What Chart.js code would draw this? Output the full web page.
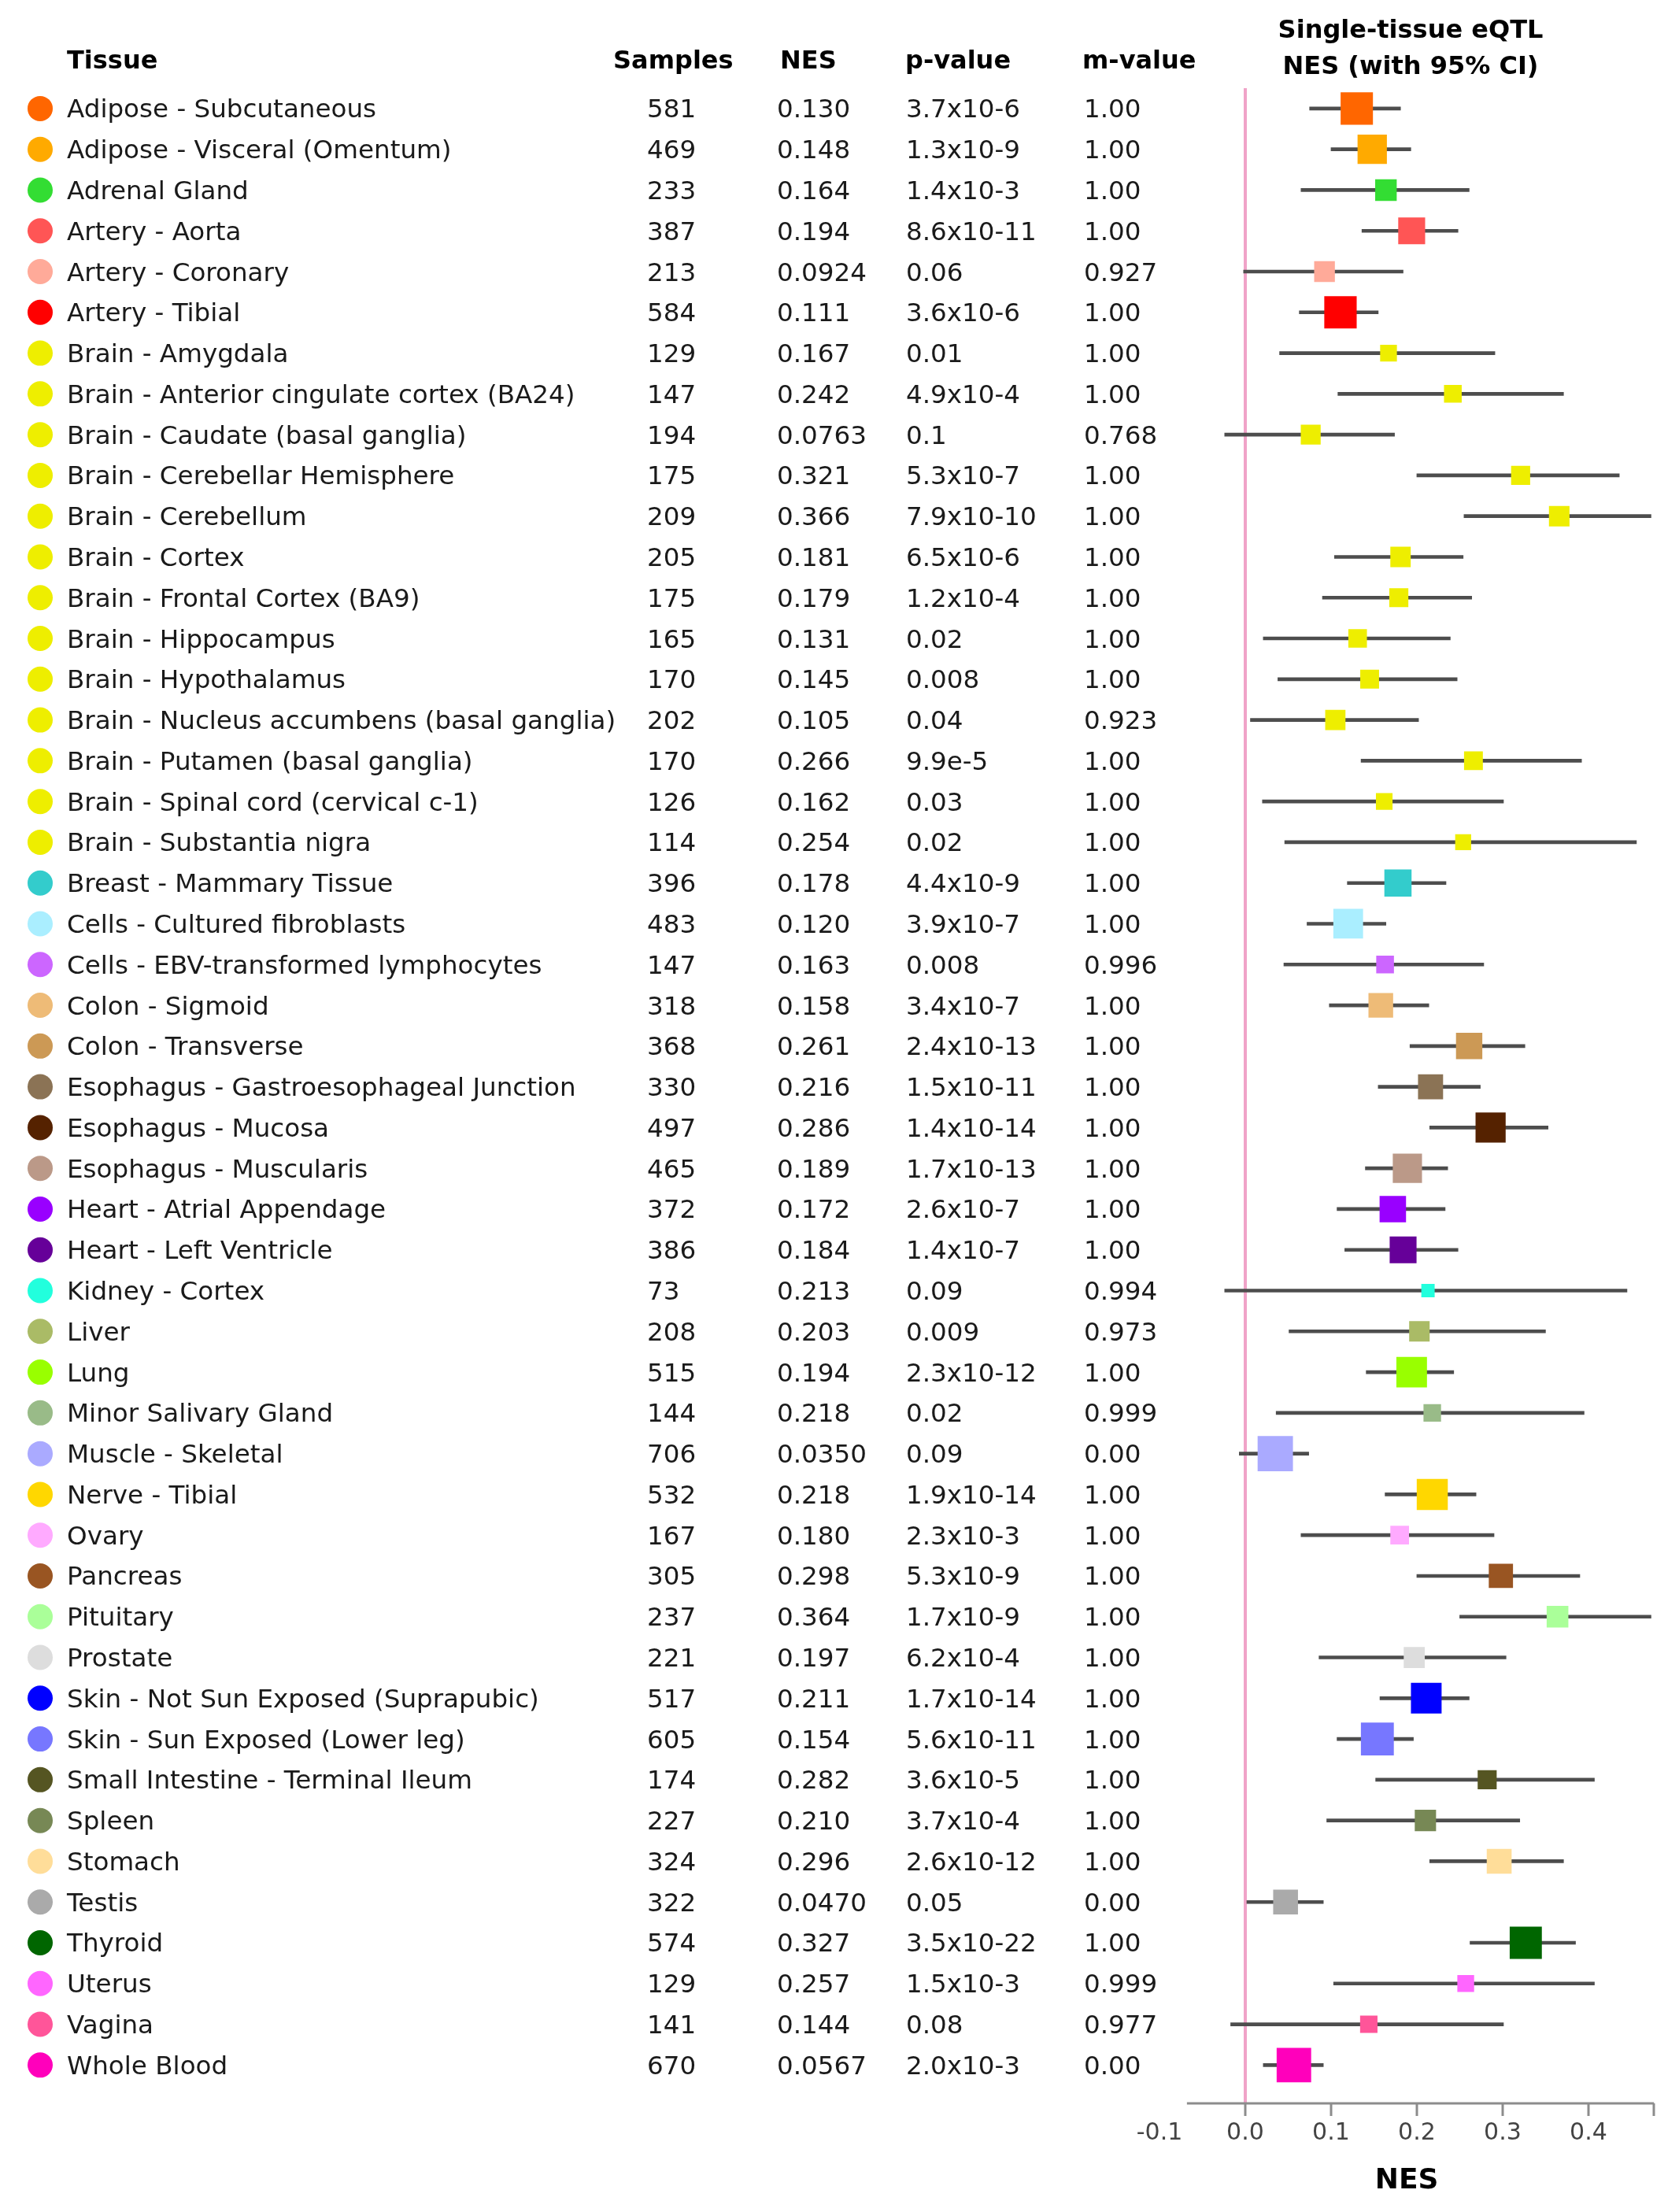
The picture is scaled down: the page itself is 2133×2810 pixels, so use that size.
<!DOCTYPE html>
<html>
<head>
<meta charset="utf-8">
<script src="https://cdn.jsdelivr.net/npm/chart.js@4.4.1/dist/chart.umd.min.js"></script>
<style>
  body { margin: 0; background: #ffffff; }
  #wrap { width: 2133px; height: 2810px; }
</style>
</head>
<body>
<div id="wrap"><canvas id="eqtlChart" width="2133" height="2810"></canvas></div>
<script>
const tissues = [
  'Adipose - Subcutaneous', 'Adipose - Visceral (Omentum)', 'Adrenal Gland', 'Artery - Aorta',
  'Artery - Coronary', 'Artery - Tibial', 'Brain - Amygdala', 'Brain - Anterior cingulate cortex (BA24)',
  'Brain - Caudate (basal ganglia)', 'Brain - Cerebellar Hemisphere', 'Brain - Cerebellum', 'Brain - Cortex',
  'Brain - Frontal Cortex (BA9)', 'Brain - Hippocampus', 'Brain - Hypothalamus',
  'Brain - Nucleus accumbens (basal ganglia)', 'Brain - Putamen (basal ganglia)',
  'Brain - Spinal cord (cervical c-1)', 'Brain - Substantia nigra', 'Breast - Mammary Tissue',
  'Cells - Cultured fibroblasts', 'Cells - EBV-transformed lymphocytes', 'Colon - Sigmoid',
  'Colon - Transverse', 'Esophagus - Gastroesophageal Junction', 'Esophagus - Mucosa',
  'Esophagus - Muscularis', 'Heart - Atrial Appendage', 'Heart - Left Ventricle', 'Kidney - Cortex',
  'Liver', 'Lung', 'Minor Salivary Gland', 'Muscle - Skeletal', 'Nerve - Tibial', 'Ovary', 'Pancreas',
  'Pituitary', 'Prostate', 'Skin - Not Sun Exposed (Suprapubic)', 'Skin - Sun Exposed (Lower leg)',
  'Small Intestine - Terminal Ileum', 'Spleen', 'Stomach', 'Testis', 'Thyroid', 'Uterus', 'Vagina',
  'Whole Blood'
];
const samples = [581, 469, 233, 387, 213, 584, 129, 147, 194, 175, 209, 205, 175, 165, 170, 202, 170,
  126, 114, 396, 483, 147, 318, 368, 330, 497, 465, 372, 386, 73, 208, 515, 144, 706, 532, 167, 305,
  237, 221, 517, 605, 174, 227, 324, 322, 574, 129, 141, 670];
const nes = [0.130, 0.148, 0.164, 0.194, 0.0924, 0.111, 0.167, 0.242, 0.0763, 0.321, 0.366, 0.181,
  0.179, 0.131, 0.145, 0.105, 0.266, 0.162, 0.254, 0.178, 0.120, 0.163, 0.158, 0.261, 0.216, 0.286,
  0.189, 0.172, 0.184, 0.213, 0.203, 0.194, 0.218, 0.0350, 0.218, 0.180, 0.298, 0.364, 0.197, 0.211,
  0.154, 0.282, 0.210, 0.296, 0.0470, 0.327, 0.257, 0.144, 0.0567];
const pValues = ['3.7x10-6', '1.3x10-9', '1.4x10-3', '8.6x10-11', '0.06', '3.6x10-6', '0.01', '4.9x10-4',
  '0.1', '5.3x10-7', '7.9x10-10', '6.5x10-6', '1.2x10-4', '0.02', '0.008', '0.04', '9.9e-5', '0.03',
  '0.02', '4.4x10-9', '3.9x10-7', '0.008', '3.4x10-7', '2.4x10-13', '1.5x10-11', '1.4x10-14',
  '1.7x10-13', '2.6x10-7', '1.4x10-7', '0.09', '0.009', '2.3x10-12', '0.02', '0.09', '1.9x10-14',
  '2.3x10-3', '5.3x10-9', '1.7x10-9', '6.2x10-4', '1.7x10-14', '5.6x10-11', '3.6x10-5', '3.7x10-4',
  '2.6x10-12', '0.05', '3.5x10-22', '1.5x10-3', '0.08', '2.0x10-3'];
const mValues = ['1.00', '1.00', '1.00', '1.00', '0.927', '1.00', '1.00', '1.00', '0.768', '1.00', '1.00',
  '1.00', '1.00', '1.00', '1.00', '0.923', '1.00', '1.00', '1.00', '1.00', '1.00', '0.996', '1.00',
  '1.00', '1.00', '1.00', '1.00', '1.00', '1.00', '0.994', '0.973', '1.00', '0.999', '0.00', '1.00',
  '1.00', '1.00', '1.00', '1.00', '1.00', '1.00', '1.00', '1.00', '1.00', '0.00', '1.00', '0.999',
  '0.977', '0.00'];
// 95% CI ends
const ciLow = [0.075, 0.100, 0.065, 0.136, -0.002, 0.063, 0.040, 0.108, -0.024, 0.200, 0.255, 0.104,
  0.090, 0.021, 0.038, 0.006, 0.135, 0.020, 0.046, 0.119, 0.072, 0.045, 0.098, 0.192, 0.155, 0.215,
  0.140, 0.107, 0.116, -0.024, 0.051, 0.141, 0.036, -0.007, 0.163, 0.065, 0.200, 0.250, 0.086, 0.157,
  0.107, 0.152, 0.095, 0.215, 0.000, 0.262, 0.103, -0.017, 0.021];
const ciHigh = [0.181, 0.193, 0.261, 0.248, 0.184, 0.155, 0.291, 0.371, 0.174, 0.436, 0.473, 0.254,
  0.264, 0.239, 0.247, 0.202, 0.392, 0.301, 0.456, 0.234, 0.164, 0.278, 0.214, 0.326, 0.274, 0.353,
  0.236, 0.233, 0.248, 0.445, 0.350, 0.243, 0.395, 0.074, 0.269, 0.290, 0.390, 0.473, 0.304, 0.261,
  0.196, 0.407, 0.320, 0.371, 0.091, 0.385, 0.407, 0.301, 0.091];
const tissueColors = ['#FF6600', '#FFAA00', '#33DD33', '#FF5555', '#FFAA99', '#FF0000', '#EEEE00',
  '#EEEE00', '#EEEE00', '#EEEE00', '#EEEE00', '#EEEE00', '#EEEE00', '#EEEE00', '#EEEE00', '#EEEE00',
  '#EEEE00', '#EEEE00', '#EEEE00', '#33CCCC', '#AAEEFF', '#CC66FF', '#EEBB77', '#CC9955', '#8B7355',
  '#552200', '#BB9988', '#9900FF', '#660099', '#22FFDD', '#AABB66', '#99FF00', '#99BB88', '#AAAAFF',
  '#FFD700', '#FFAAFF', '#995522', '#AAFF99', '#DDDDDD', '#0000FF', '#7777FF', '#555522', '#778855',
  '#FFDD99', '#AAAAAA', '#006600', '#FF66FF', '#FF5599', '#FF00BB'];
const xTicks = [-0.1, 0, 0.1, 0.2, 0.3, 0.4];

const FONT = "'DejaVu Sans', Verdana, sans-serif";
const pink = '#f0a3c8';
const axisGray = '#8c8c8c';
const xMin = -0.1, xMax = 0.4765, axisStart = -0.068;

// square side grows with sqrt of the sample size
function squareSide(n) {
  return 3.7 + 1.55 * Math.sqrt(n);
}

const tablePlugin = {
  id: 'tablePlugin',
  afterDraw(chart) {
    const ctx = chart.ctx;
    const yScale = chart.scales.y;
    ctx.save();
    ctx.fillStyle = '#000';
    ctx.font = 'bold 32px ' + FONT;
    ctx.textBaseline = 'alphabetic';
    ctx.textAlign = 'left';
    ctx.fillText('Tissue', 85, 87);
    ctx.fillText('Samples', 779, 87);
    ctx.fillText('NES', 991, 87);
    ctx.fillText('p-value', 1150, 87);
    ctx.fillText('m-value', 1375, 87);
    ctx.textAlign = 'center';
    ctx.fillText('Single-tissue eQTL', 1792, 48);
    ctx.fillText('NES (with 95% CI)', 1792, 94);

    ctx.font = '32.6px ' + FONT;
    ctx.textAlign = 'left';
    tissues.forEach((name, i) => {
      const y = yScale.getPixelForValue(i);
      ctx.fillStyle = tissueColors[i];
      ctx.beginPath();
      ctx.arc(51, y, 16, 0, Math.PI * 2);
      ctx.fill();
      ctx.fillStyle = '#1a1a1a';
      ctx.fillText(name, 85, y + 11.5);
      ctx.fillText(String(samples[i]), 822, y + 11.5);
      ctx.fillText(nes[i].toPrecision(3), 987, y + 11.5);
      ctx.fillText(pValues[i], 1151, y + 11.5);
      ctx.fillText(mValues[i], 1377, y + 11.5);
    });

    // axis line starts a bit right of the -0.1 label
    const xScale = chart.scales.x;
    ctx.strokeStyle = axisGray;
    ctx.lineWidth = 3;
    ctx.beginPath();
    ctx.moveTo(xScale.getPixelForValue(axisStart), chart.chartArea.bottom);
    ctx.lineTo(chart.chartArea.right, chart.chartArea.bottom);
    ctx.stroke();
    ctx.restore();
  }
};

const ctx = document.getElementById('eqtlChart').getContext('2d');
new Chart(ctx, {
  type: 'bar',
  data: {
    datasets: [
      {
        type: 'scatter',
        label: 'NES',
        data: nes.map((v, i) => ({ x: v, y: i })),
        pointStyle: 'rect',
        pointRadius: c => squareSide(samples[c.dataIndex]) / Math.SQRT2,
        pointHoverRadius: c => squareSide(samples[c.dataIndex]) / Math.SQRT2,
        pointBackgroundColor: tissueColors,
        pointBorderWidth: 0,
        order: 0
      },
      {
        label: '95% CI',
        data: ciLow.map((lo, i) => ({ x: [lo, ciHigh[i]], y: i })),
        backgroundColor: '#4d4d4d',
        borderWidth: 0,
        barThickness: 4,
        order: 1
      }
    ]
  },
  options: {
    indexAxis: 'y',
    responsive: false,
    animation: false,
    layout: { padding: { left: 1473, right: 28, top: 112, bottom: 14 } },
    plugins: {
      legend: { display: false },
      tooltip: { enabled: false }
    },
    scales: {
      x: {
        type: 'linear',
        min: xMin,
        max: xMax,
        afterBuildTicks: axis => {
          axis.ticks = xTicks.concat([xMax]).map(v => ({ value: v }));
        },
        afterFit: scale => { scale.height = 124; },
        border: { display: false },
        grid: {
          color: c => (c.tick && c.tick.value === 0) ? pink : 'rgba(0,0,0,0)',
          lineWidth: 4,
          drawTicks: true,
          tickLength: 16,
          tickWidth: 3,
          tickColor: c => (c.tick && c.tick.value === -0.1) ? 'rgba(0,0,0,0)' : axisGray
        },
        ticks: {
          autoSkip: false,
          maxRotation: 0,
          padding: 4,
          color: '#444',
          font: { family: FONT, size: 30 },
          callback: v => v > 0.45 ? '' : v.toFixed(1)
        },
        title: {
          display: true,
          text: 'NES',
          color: '#000',
          font: { family: FONT, size: 36, weight: 'bold' },
          padding: { top: 4, bottom: 4 }
        }
      },
      y: {
        type: 'linear',
        min: -0.5,
        max: 48.94,
        reverse: true,
        offset: false,
        grid: { offset: false, display: false },
        display: false
      }
    }
  },
  plugins: [tablePlugin]
});
</script>
</body>
</html>
